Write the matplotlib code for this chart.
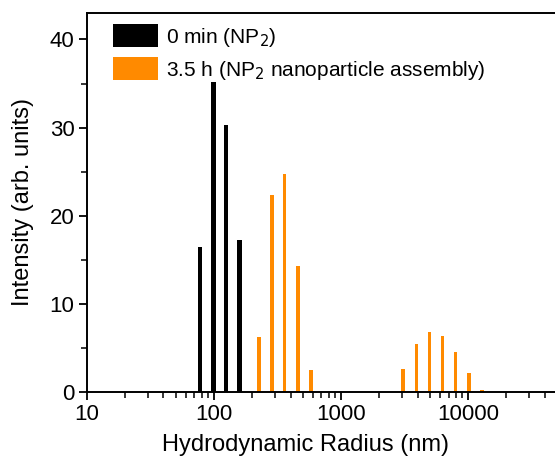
import numpy as np
import matplotlib
matplotlib.use("Agg")
import matplotlib.pyplot as plt
from matplotlib.ticker import FixedLocator, LogLocator, NullFormatter, MultipleLocator

plt.rcParams['font.family'] = ['Liberation Sans', 'DejaVu Sans']
plt.rcParams['font.size'] = 16

# DLS size distribution (intensity weighted)
radius_0min = [77.6, 98.7, 124, 158]
intensity_0min = [16.5, 35.2, 30.3, 17.3]

radius_35h = [225, 286, 358, 456, 580,
              3077, 3917, 4957, 6280, 7943, 10130, 12890]
intensity_35h = [6.2, 22.4, 24.7, 14.25, 2.46,
                 2.6, 5.5, 6.8, 6.35, 4.5, 2.15, 0.27]

label_0min = "0 min (NP$_2$)"
label_35h = "3.5 h (NP$_2$ nanoparticle assembly)"

black = "#000000"
orange = "#ff8a00"


def log_bars(ax, x, h, width_dec, color, label):
    # constant width on a log axis: edges at x*10^(+-w/2)
    x = np.asarray(x, dtype=float)
    left = x * 10 ** (-width_dec / 2)
    right = x * 10 ** (width_dec / 2)
    return ax.bar(left, h, width=right - left, align='edge', color=color,
                  edgecolor='none', label=label)


fig = plt.figure(figsize=(5.55, 4.59), dpi=100)
ax = fig.add_axes([87 / 555, 1 - 392 / 459, (557 - 87) / 555, (392 - 13) / 459])

log_bars(ax, radius_0min, intensity_0min, 0.037, black, label_0min)
log_bars(ax, radius_35h, intensity_35h, 0.030, orange, label_35h)

ax.set_xscale('log')
ax.set_xlim(10, 50000)
ax.set_ylim(0, 43)

ax.xaxis.set_major_locator(FixedLocator([10, 100, 1000, 10000]))
ax.set_xticklabels(["10", "100", "1000", "10000"])
ax.xaxis.set_minor_locator(LogLocator(base=10, subs=np.arange(2, 10)))
ax.xaxis.set_minor_formatter(NullFormatter())
ax.yaxis.set_major_locator(MultipleLocator(10))
ax.yaxis.set_minor_locator(MultipleLocator(5))

ax.tick_params(which='major', direction='out', length=6, width=1.3,
               labelsize=16, pad=3)
ax.tick_params(which='minor', direction='out', length=4, width=1.1)
for s in ax.spines.values():
    s.set_linewidth(1.4)

ax.set_xlabel("Hydrodynamic Radius (nm)", fontsize=17)
ax.set_ylabel("Intensity (arb. units)", fontsize=17)
ax.xaxis.set_label_coords(0.464, -0.112)
ax.yaxis.set_label_coords(-0.113, 0.5)

ax.legend(loc='upper left', frameon=False, fontsize=15,
          handlelength=2.2, handleheight=1.3, handletextpad=0.35,
          labelspacing=0.42, borderaxespad=0.2, bbox_to_anchor=(0.028, 1.003))

fig.savefig("out.png", dpi=100)
